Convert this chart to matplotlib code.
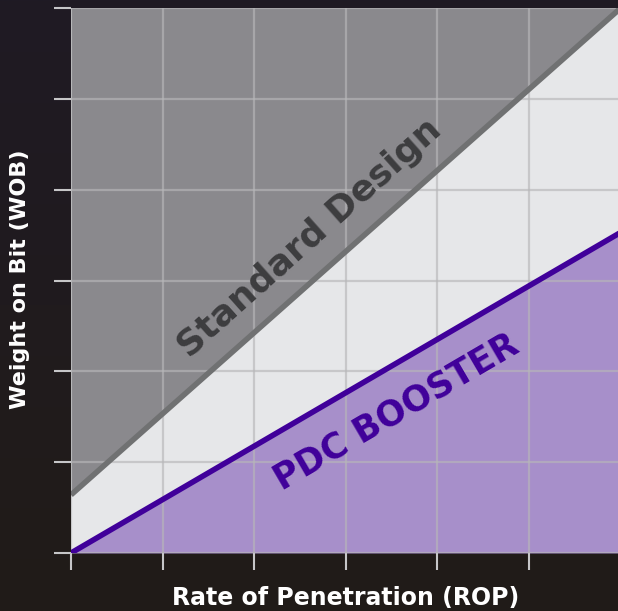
import matplotlib
matplotlib.use("Agg")
import matplotlib.pyplot as plt
import numpy as np

# line end points (ROP on x, WOB on y)
rop = [0.0, 6.0]
standard_wob = [0.64, 6.0]
pdc_wob = [0.0, 3.53]
x_ticks = [0, 1, 2, 3, 4, 5]
y_ticks = [0, 1, 2, 3, 4, 5, 6]

BG_TOP = "#1f1a24"
BG_BOT = "#211c18"
PLOT_BG = "#e6e7e9"
STD_FILL = "#8a898d"
STD_LINE = "#707172"
PDC_FILL = "#a78fca"
PDC_LINE = "#40009a"
GRID = "#b7b7b9"
TICK = "#c6c6c8"
FONT = ["DejaVu Sans"]

fig = plt.figure(figsize=(6.18, 6.11), dpi=100)

# dark backdrop
bg = fig.add_axes([0, 0, 1, 1], zorder=0)
grad = np.linspace(0, 1, 256).reshape(-1, 1)
cmap = matplotlib.colors.LinearSegmentedColormap.from_list("bg", [BG_TOP, BG_BOT])
bg.imshow(grad, aspect="auto", cmap=cmap, extent=(0, 1, 0, 1))
bg.axis("off")

ax = fig.add_axes([71 / 618, 58 / 611, 547 / 618, 545 / 611], zorder=1)
ax.set_facecolor(PLOT_BG)
ax.set_xlim(0, 5.97)
ax.set_ylim(0, 6)

ax.fill_between(rop, standard_wob, 6.5, color=STD_FILL, zorder=1, lw=0)
ax.fill_between(rop, 0, pdc_wob, color=PDC_FILL, zorder=1, lw=0)

ax.set_xticks(x_ticks)
ax.set_yticks(y_ticks)
ax.grid(True, color=GRID, lw=1.6, alpha=0.65, zorder=2)
ax.set_axisbelow(False)

ax.plot(rop, standard_wob, color=STD_LINE, lw=4, zorder=3, solid_capstyle="butt")
ax.plot(rop, pdc_wob, color=PDC_LINE, lw=4, zorder=3, solid_capstyle="round")

for s in ax.spines.values():
    s.set_visible(False)
ax.tick_params(axis="both", length=12, width=1.5, color=TICK,
               labelbottom=False, labelleft=False)

ax.text(2.61, 3.47, "Standard Design", rotation=41.7, fontsize=26,
        fontfamily=FONT, fontweight="bold", color="#3d3d3f",
        ha="center", va="center", zorder=4)
ax.text(3.55, 1.55, "PDC BOOSTER", rotation=30.3, fontsize=25,
        fontfamily=FONT, fontweight="bold", color=PDC_LINE,
        ha="center", va="center", zorder=4)

fig.text(346 / 618, 1 - 598 / 611, "Rate of Penetration (ROP)", fontsize=17,
         fontfamily=FONT, fontweight="bold", color="white",
         ha="center", va="center", zorder=5)
fig.text(20 / 618, 1 - 279 / 611, "Weight on Bit (WOB)", fontsize=16,
         fontfamily=FONT, fontweight="bold", color="white", rotation=90,
         ha="center", va="center", zorder=5)

fig.savefig("out.png", dpi=100)
